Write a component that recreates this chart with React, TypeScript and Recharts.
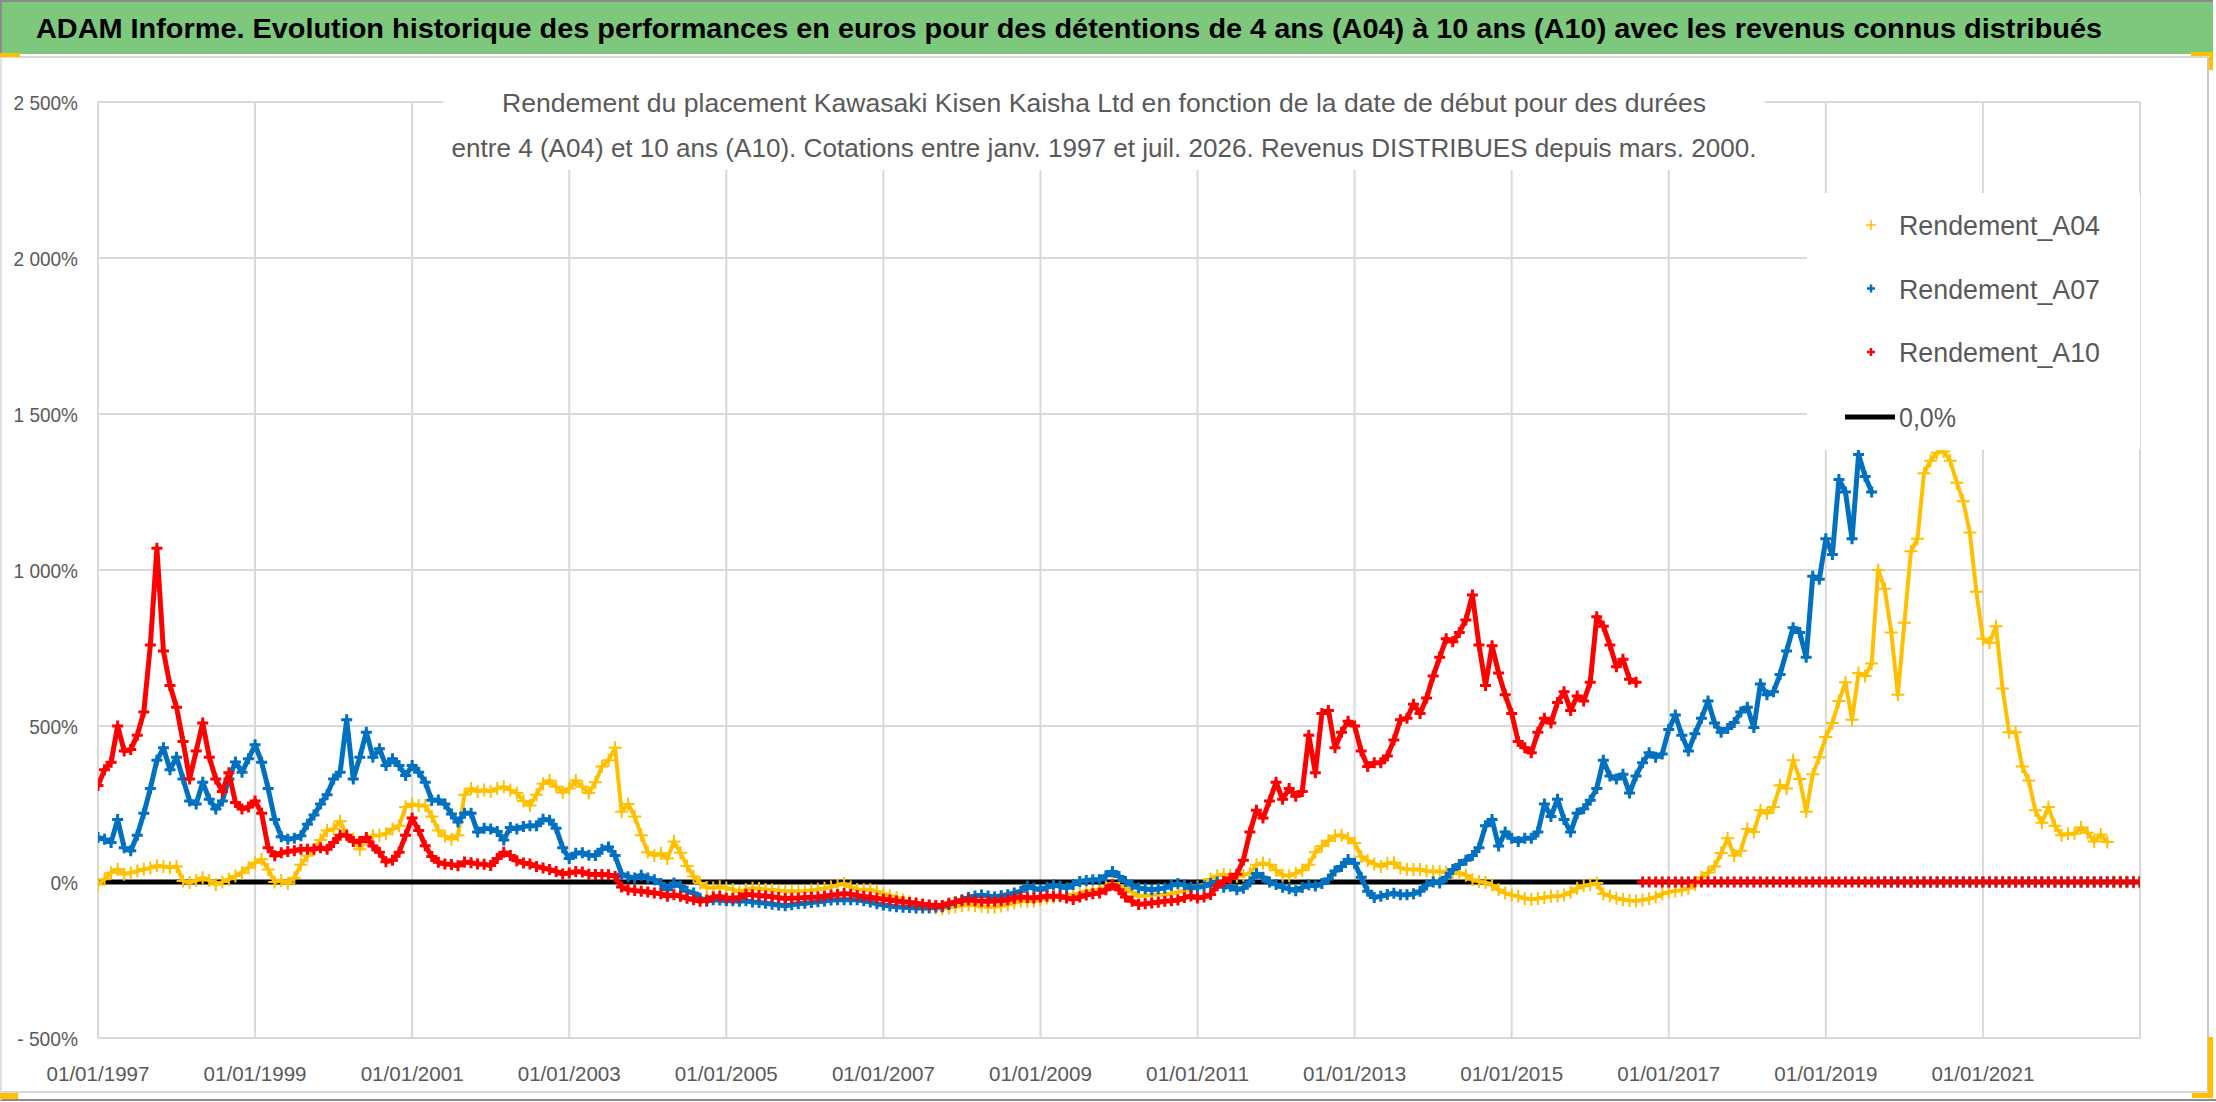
import React from 'react';
import { ScatterChart, Scatter, XAxis, YAxis, CartesianGrid, Legend } from 'recharts';

const TITLE =
  'ADAM Informe. Evolution historique des performances en euros pour des détentions de 4 ans (A04) à 10 ans (A10) avec les revenus connus distribués';
const SUBTITLE_1 =
  'Rendement du placement Kawasaki Kisen Kaisha Ltd en fonction de la date de début pour des durées';
const SUBTITLE_2 =
  'entre 4 (A04) et 10 ans (A10). Cotations entre janv. 1997 et juil. 2026. Revenus DISTRIBUES depuis mars. 2000.';

// x = months since 01/01/1997
const START_YEAR = 1997;
const X_DOMAIN = [0, 312];
const X_TICKS = [0, 24, 48, 72, 96, 120, 144, 168, 192, 216, 240, 264, 288];
const Y_TICKS = [-500, 0, 500, 1000, 1500, 2000, 2500];

// Rendement_A04 (%), one value per month from 01/1997
const A04 = [
  -8, 9, 30, 41, 25, 30, 35, 41, 45, 52, 50, 46, 50, 3, -2, 5, 14, 5, -8, 0,
  9, 19, 30, 46, 62, 73, 40, 0, 5, -5, 14, 55, 84, 105, 135, 165, 170, 195, 150, 137,
  105, 137, 148, 150, 155, 170, 180, 240, 250, 245, 245, 210,
  165, 147, 137, 150, 280, 300, 290, 295, 290, 300, 305, 295, 285, 260, 245, 280, 315, 325, 305, 287,
  300, 325, 305, 285, 320, 370, 390, 430, 225, 250, 210, 150, 95, 85, 92, 75, 130, 94, 51, 18,
  -3, -18, -19, -15, -19, -24, -32,
  -25, -20, -21, -24, -25, -28, -30, -30, -30, -29, -26, -23, -20, -16, -10, -5, -16, -24, -25, -25,
  -30, -38, -44, -50, -58, -63, -68, -73, -77, -83, -86, -83, -79, -76, -73, -75, -78, -80, -80, -77,
  -73, -67, -62, -62, -62, -57, -51, -49, -46, -44, -41, -36, -31, -28, -25, -15, -4, -12, -19, -32,
  -46, -44, -41, -41, -41, -37, -32, -28, -22, -16, -8, 10, 20,
  24, 21, 18, 22, 28, 55, 60, 55, 38, 22, 20, 28, 38, 55, 95, 115, 132, 148, 150, 140,
  125, 82, 68, 58, 50, 60, 62, 45, 41, 40, 40, 35, 34, 34, 31, 29, 29, 22, 7, 2,
  -2, -10, -25, -35, -42, -46,
  -53, -56, -53, -50, -46, -46, -42, -33, -20, -12, -9, -3, -38, -45, -52, -56, -59, -61, -58, -54,
  -48, -38, -32, -29, -26, -20, -7, 15, 30, 50, 93, 140, 85, 100, 170, 160, 230, 220, 240, 310,
  300, 390, 330, 225,
  345, 400, 465, 510, 580, 640, 520, 670, 660, 700, 1000, 940, 800, 600, 831, 1060, 1100, 1310, 1350, 1376,
  1380, 1350, 1280, 1220, 1120, 930, 780, 767, 820, 620, 480, 480, 370, 325, 230, 190, 240, 180, 150, 155,
  155, 175, 158, 130, 152, 128,
  0, 0, 0, 0, 0,
];
const A04_ZERO_FROM = 308;

// Rendement_A07 (%)
const A07 = [
  143, 137, 127, 200, 110, 100, 150, 220, 300, 390, 430, 360, 400, 330, 260, 250, 320, 265, 234, 260,
  330, 385, 352, 395, 440, 384, 300, 200, 145, 137, 140, 148, 185, 215, 250, 280, 330, 352, 520, 330,
  400, 480, 400, 427, 373, 395, 373, 341, 373, 352, 320, 262,
  263, 250, 218, 192, 220, 220, 160, 172, 170, 162, 135, 175, 170, 178, 180, 180, 201, 198, 172, 110,
  75, 92, 94, 86, 85, 105, 112, 85, 25, 17, 13, 22, 13, 7, -5, -25, -3, -14, -30, -35,
  -52, -62, -57, -58, -60, -60, -62,
  -60, -64, -66, -68, -71, -74, -76, -73, -70, -68, -66, -63, -61, -58, -57, -57, -57, -57, -60, -64,
  -70, -74, -77, -79, -81, -82, -83, -83, -83, -81, -79, -72, -65, -57, -50, -45, -42, -45, -48, -44,
  -41, -35, -30, -14, -20, -25, -17, -9, -14, -19, -8, 2, 5, 7, 7, 20, 34, 18, 2, -10,
  -19, -22, -25, -22, -19, -11, -5, -10, -19, -17, -14, -5, 0,
  -17, -14, -25, -20, 0, 27, 15, 0, -8, -17, -22, -28, -18, -9, -13, -5, 10, 35, 50, 72,
  60, 15, -30, -50, -46, -40, -36, -41, -41, -38, -30, -10, 0, -3, 15, 40, 56, 70, 85, 110,
  180, 200, 115, 160,
  140, 130, 140, 140, 160, 250, 210, 265, 200, 160, 220, 235, 262, 300, 390, 340, 330, 345, 285, 340,
  382, 414, 400, 410, 489, 535, 470, 420, 475, 525, 580, 510, 480, 492, 511, 545, 560, 495, 635, 600,
  610, 665, 740, 815, 800, 720,
  980, 970, 1100, 1050, 1290, 1250, 1100, 1370, 1300, 1250,
  0, 0, 0, 0, 0, 0, 0, 0, 0, 0, 0, 0, 0, 0, 0, 0, 0, 0, 0, 0,
  0, 0, 0, 0, 0, 0, 0, 0, 0, 0, 0, 0, 0, 0, 0, 0, 0, 0, 0, 0, 0,
];
const A07_ZERO_FROM = 272;

// Rendement_A10 (%)
const A10 = [
  309, 360, 384, 500, 420, 425, 470, 545, 760, 1070, 740, 630, 560, 450, 330, 420, 510, 400, 330, 290,
  350, 255, 234, 240, 260, 220, 110, 84, 94, 98, 100, 105, 105, 105, 110, 105, 127, 150, 150, 130,
  130, 143, 115, 95, 65, 70, 95, 150, 205, 165, 116, 82,
  63, 58, 56, 52, 64, 62, 58, 57, 53, 75, 95, 85, 68, 61, 58, 50, 45, 40, 34, 26,
  29, 34, 32, 25, 24, 24, 23, 18, -16, -25, -27, -30, -32, -35, -38, -46, -41, -46, -52, -57,
  -62, -58, -48, -46, -52, -52, -50,
  -39, -41, -43, -45, -47, -50, -53, -52, -51, -50, -49, -48, -46, -42, -40, -37, -39, -43, -46, -49,
  -52, -55, -58, -61, -63, -66, -68, -71, -74, -75, -75, -68, -64, -60, -57, -60, -62, -62, -62, -60,
  -57, -52, -48, -50, -51, -48, -46, -46, -46, -51, -56, -48, -42, -38, -35, -25, -9, -25, -48, -62,
  -72, -70, -67, -65, -62, -60, -58, -50, -45, -51, -48, -40, -12,
  2, 12, 25, 70, 160, 230, 205, 260, 320, 265, 300, 275, 290, 470, 350, 540, 550, 430, 480, 515,
  500, 420, 370, 382, 382, 404, 455, 520, 525, 570, 540, 590, 660, 720, 780, 770, 800, 840, 920, 760,
  630, 757, 670, 600,
  540, 450, 430, 414, 480, 525, 510, 575, 610, 550, 596, 580, 640, 850, 820, 760, 690, 714, 650, 640,
  0, 0, 0, 0, 0, 0, 0, 0, 0, 0, 0, 0, 0, 0, 0, 0, 0, 0, 0, 0,
  0, 0, 0, 0, 0, 0, 0, 0, 0, 0, 0, 0, 0, 0, 0, 0, 0, 0, 0, 0,
  0, 0, 0, 0, 0, 0, 0, 0, 0, 0, 0, 0, 0, 0, 0, 0, 0, 0, 0, 0,
  0, 0, 0, 0, 0, 0, 0, 0, 0, 0, 0, 0, 0, 0, 0, 0, 0,
];
const A10_ZERO_FROM = 236;

// 0,0% reference series (start and end month)
const ZERO_MONTHS = [0, 312];

const toPoints = (vals: number[]) => vals.map((v, i) => ({ m: i, v }));

const COLORS = { a04: '#FFC000', a07: '#0070C0', a10: '#FF0000', zero: '#000000' };
const GRAY_TEXT = '#595959';
const GRID = '#D9D9D9';
const FONT = "'Liberation Sans', Arial, sans-serif";

const plusShape = (color: string, half: number, sw: number) => (props: any) => {
  const { cx, cy } = props;
  if (cx == null || cy == null || isNaN(cx) || isNaN(cy)) return <g />;
  return (
    <path
      d={`M${cx - half},${cy}H${cx + half}M${cx},${cy - half}V${cy + half}`}
      stroke={color}
      strokeWidth={sw}
      fill="none"
    />
  );
};
const noShape = () => <g />;

const fmtY = (v: number) => {
  const a = Math.abs(v);
  const s = a >= 1000 ? `${Math.floor(a / 1000)} ${String(a % 1000).padStart(3, '0')}` : `${a}`;
  return (v < 0 ? '- ' : '') + s + '%';
};

const estWidth = (s: string) => {
  let w = 0;
  for (const ch of s) {
    if (ch >= '0' && ch <= '9') w += 10.6;
    else if (ch === ' ') w += 5;
    else if (ch === '%') w += 17;
    else if (ch === '-') w += 7;
    else w += 8;
  }
  return w;
};

const YTick = (props: any) => {
  const { y, payload } = props;
  const label = fmtY(payload.value);
  return (
    <text
      x={78}
      y={y + 8}
      textAnchor="end"
      fill={GRAY_TEXT}
      fontSize={21}
      fontFamily={FONT}
      textLength={estWidth(label)}
      lengthAdjust="spacingAndGlyphs"
    >
      {label}
    </text>
  );
};

const XTick = (props: any) => {
  const { x, payload } = props;
  const label = `01/01/${START_YEAR + payload.value / 12}`;
  return (
    <text
      x={x}
      y={1081}
      textAnchor="middle"
      fill={GRAY_TEXT}
      fontSize={21}
      fontFamily={FONT}
      textLength={103}
      lengthAdjust="spacingAndGlyphs"
    >
      {label}
    </text>
  );
};

const LEGEND_ITEMS = [
  { name: 'Rendement_A04', color: COLORS.a04, half: 5, sw: 1.5 },
  { name: 'Rendement_A07', color: COLORS.a07, half: 4, sw: 2.5 },
  { name: 'Rendement_A10', color: COLORS.a10, half: 4, sw: 2.5 },
];

const LegendBox = () => (
  <svg width={333} height={257} style={{ display: 'block', overflow: 'visible' }}>
    <rect x={0} y={0} width={333} height={257} fill="#fff" />
    {LEGEND_ITEMS.map((it, i) => {
      const cy = 32 + i * 63.5;
      return (
        <g key={it.name}>
          <path
            d={`M${64 - it.half},${cy}H${64 + it.half}M64,${cy - it.half}V${cy + it.half}`}
            stroke={it.color}
            strokeWidth={it.sw}
          />
          <text
            x={92}
            y={cy + 10}
            fill={GRAY_TEXT}
            fontSize={27}
            fontFamily={FONT}
            textLength={201}
            lengthAdjust="spacingAndGlyphs"
          >
            {it.name}
          </text>
        </g>
      );
    })}
    <line x1={38} x2={88} y1={224} y2={224} stroke="#000" strokeWidth={5} />
    <text
      x={92}
      y={234}
      fill={GRAY_TEXT}
      fontSize={27}
      fontFamily={FONT}
      textLength={57}
      lengthAdjust="spacingAndGlyphs"
    >
      0,0%
    </text>
  </svg>
);

export default function App() {
  const zeroData = ZERO_MONTHS.map((m) => ({ m, v: 0 }));
  const a04 = toPoints(A04);
  const a07 = toPoints(A07);
  const a10 = toPoints(A10);
  const bandLine = (color: string, w: number) => ({
    stroke: color,
    strokeWidth: w,
    strokeLinejoin: 'round' as const,
    strokeLinecap: 'round' as const,
  });
  return (
    <div
      style={{
        position: 'absolute',
        left: 0,
        top: 0,
        width: 2216,
        height: 1102,
        background: '#fff',
        overflow: 'hidden',
        fontFamily: FONT,
      }}
    >
      <ScatterChart
        width={2216}
        height={1102}
        margin={{ top: 102, right: 76, bottom: 0, left: 8 }}
      >
        <CartesianGrid stroke={GRID} strokeWidth={2} />
        <XAxis
          type="number"
          dataKey="m"
          domain={X_DOMAIN}
          ticks={X_TICKS}
          interval={0}
          allowDataOverflow
          height={64}
          axisLine={false}
          tickLine={false}
          tick={<XTick />}
        />
        <YAxis
          type="number"
          dataKey="v"
          domain={[-500, 2500]}
          ticks={Y_TICKS}
          interval={0}
          allowDataOverflow
          width={90}
          axisLine={false}
          tickLine={false}
          tick={<YTick />}
        />
        <Scatter
          name="0,0%"
          data={zeroData}
          line={{ stroke: COLORS.zero, strokeWidth: 5 }}
          shape={noShape}
          isAnimationActive={false}
        />
        <Scatter
          name="A04 band"
          data={a04.slice(0, A04_ZERO_FROM)}
          line={bandLine(COLORS.a04, 4)}
          shape={noShape}
          legendType="none"
          isAnimationActive={false}
        />
        <Scatter
          name="Rendement_A04"
          data={a04}
          shape={plusShape(COLORS.a04, 6.5, 2)}
          isAnimationActive={false}
        />
        <Scatter
          name="A07 band"
          data={a07.slice(0, A07_ZERO_FROM)}
          line={bandLine(COLORS.a07, 5)}
          shape={noShape}
          legendType="none"
          isAnimationActive={false}
        />
        <Scatter
          name="Rendement_A07"
          data={a07}
          shape={plusShape(COLORS.a07, 5.5, 3)}
          isAnimationActive={false}
        />
        <Scatter
          name="A10 band"
          data={a10.slice(0, A10_ZERO_FROM)}
          line={bandLine(COLORS.a10, 5)}
          shape={noShape}
          legendType="none"
          isAnimationActive={false}
        />
        <Scatter
          name="Rendement_A10"
          data={a10}
          shape={plusShape(COLORS.a10, 5.5, 3)}
          isAnimationActive={false}
        />
        <Legend
          layout="vertical"
          align="center"
          verticalAlign="middle"
          content={() => <LegendBox />}
          wrapperStyle={{ position: 'absolute', left: 1807, top: 193, width: 333, height: 257 }}
        />
      </ScatterChart>

      {/* subtitle box */}
      <div style={{ position: 'absolute', left: 443, top: 78, width: 1322, height: 92, background: '#fff' }} />
      <svg
        width={2216}
        height={100}
        style={{ position: 'absolute', left: 0, top: 78, display: 'block', overflow: 'visible' }}
      >
        <text
          x={1104}
          y={34}
          textAnchor="middle"
          fill={GRAY_TEXT}
          fontSize={25}
          fontFamily={FONT}
          textLength={1204}
          lengthAdjust="spacingAndGlyphs"
        >
          {SUBTITLE_1}
        </text>
        <text
          x={1104}
          y={79}
          textAnchor="middle"
          fill={GRAY_TEXT}
          fontSize={25}
          fontFamily={FONT}
          textLength={1305}
          lengthAdjust="spacingAndGlyphs"
        >
          {SUBTITLE_2}
        </text>
      </svg>

      {/* title bar */}
      <div
        style={{
          position: 'absolute',
          left: 0,
          top: 0,
          width: 2213,
          height: 54,
          background: '#7DC87D',
          borderTop: '2px solid #8C8C8C',
          borderLeft: '2px solid #8C8C8C',
          boxSizing: 'border-box',
        }}
      />
      <svg
        width={2216}
        height={54}
        style={{ position: 'absolute', left: 0, top: 0, display: 'block', overflow: 'visible' }}
      >
        <text
          x={1069}
          y={38}
          textAnchor="middle"
          fill="#000"
          fontSize={28}
          fontWeight="bold"
          fontFamily={FONT}
          textLength={2066}
          lengthAdjust="spacingAndGlyphs"
        >
          {TITLE}
        </text>
      </svg>

      {/* frame lines */}
      <div style={{ position: 'absolute', left: 0, top: 56, width: 2208, height: 2, background: '#D9D9D9' }} />
      <div style={{ position: 'absolute', left: 2207, top: 57, width: 2, height: 1035, background: '#C8C8C8' }} />
      <div style={{ position: 'absolute', left: 0, top: 1091, width: 2208, height: 2, background: '#D9D9D9' }} />
      <div style={{ position: 'absolute', left: 0, top: 1099, width: 2216, height: 2, background: '#8C8C8C' }} />
      <div style={{ position: 'absolute', left: 0, top: 56, width: 2, height: 1044, background: '#E0E0E0' }} />
      {/* selection handles */}
      <div style={{ position: 'absolute', left: 0, top: 53, width: 20, height: 4, background: '#FFC000' }} />
      <div style={{ position: 'absolute', left: 2191, top: 52, width: 22, height: 4, background: '#FFC000' }} />
      <div style={{ position: 'absolute', left: 2209, top: 52, width: 4, height: 18, background: '#FFC000' }} />
      <div style={{ position: 'absolute', left: 0, top: 1093, width: 18, height: 6, background: '#FFC000' }} />
      <div style={{ position: 'absolute', left: 2208, top: 1037, width: 5, height: 61, background: '#FFC000' }} />
      <div style={{ position: 'absolute', left: 2192, top: 1093, width: 21, height: 5, background: '#FFC000' }} />
    </div>
  );
}
